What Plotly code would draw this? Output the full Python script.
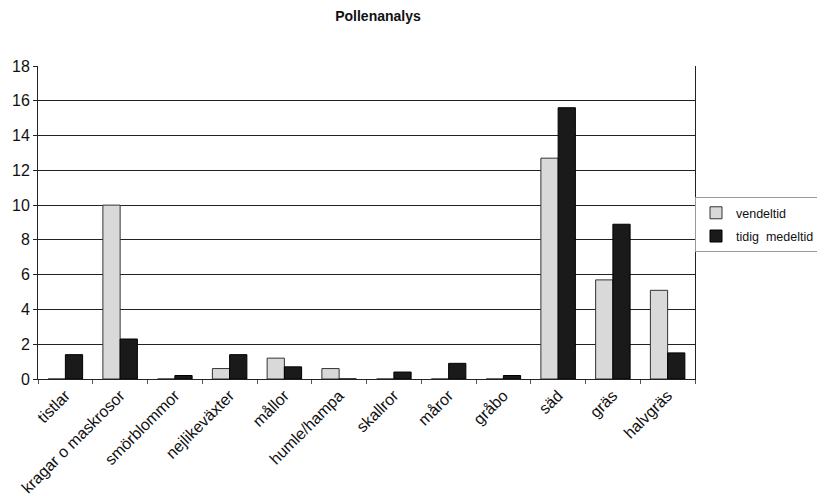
import plotly.graph_objects as go

categories = ["tistlar", "kragar o maskrosor", "smörblommor", "nejlikeväxter", "mållor",
              "humle/hampa", "skallror", "måror", "gråbo", "säd", "gräs", "halvgräs"]
vendeltid = [0, 10.0, 0, 0.6, 1.2, 0.6, 0, 0, 0, 12.7, 5.7, 5.1]
tidig_medeltid = [1.4, 2.3, 0.2, 1.4, 0.7, 0, 0.4, 0.9, 0.2, 15.6, 8.9, 1.5]
y_ticks = [0, 2, 4, 6, 8, 10, 12, 14, 16, 18]

W, H = 817, 488  # page body has 8px default margin

fig = go.Figure()
fig.add_trace(go.Bar(x=categories, y=vendeltid, name="vendeltid", legendgroup="a",
                     marker=dict(color="#d9d9d9", line=dict(color="#333333", width=1))))
fig.add_trace(go.Bar(x=categories, y=tidig_medeltid, name="tidig  medeltid", legendgroup="b",
                     marker=dict(color="#1a1a1a", line=dict(color="#000000", width=1))))

fig.update_layout(
    width=W, height=H,
    margin=dict(l=30, r=130, t=58, b=117, autoexpand=False),
    paper_bgcolor="white", plot_bgcolor="white",
    font=dict(family="Liberation Sans, Arial, sans-serif", color="#111111", size=14),
    title=dict(text="<b>Pollenanalys</b>", x=370/W, xanchor="center", y=1-8/H, yanchor="middle",
               font=dict(size=14)),
    barmode="group", bargap=0.37, bargroupgap=0,
    showlegend=True,
    legend=dict(x=1.0, y=0.581, xanchor="left", yanchor="top", bgcolor="white",
                bordercolor="#999999", borderwidth=1, font=dict(size=12.5),
                traceorder="grouped", tracegroupgap=4, itemwidth=30),
    xaxis=dict(showgrid=False, showline=True, linecolor="#222222", linewidth=1, mirror=False,
               ticks="outside", tickson="boundaries", ticklen=4, tickcolor="#555555",
               tickangle=-45, tickfont=dict(size=16), automargin=False),
    yaxis=dict(range=[0, 18], tickvals=y_ticks, showgrid=True, gridcolor="#222222", gridwidth=1,
               showline=True, linecolor="#222222", linewidth=1, mirror=True,
               ticks="outside", ticklen=4, tickcolor="#222222", tickfont=dict(size=16),
               zeroline=False, automargin=False),
)
fig.write_html("out.html")
